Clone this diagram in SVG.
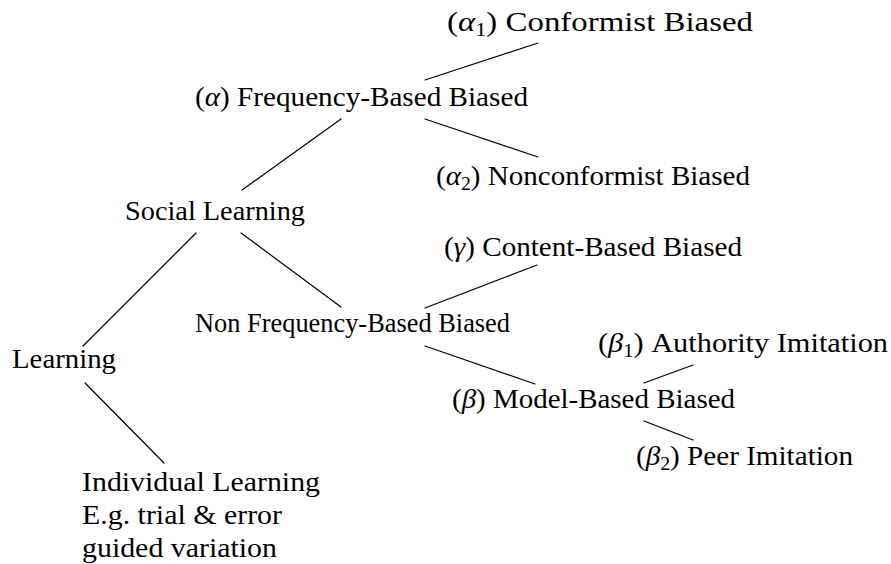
<svg xmlns="http://www.w3.org/2000/svg" width="891" height="564" viewBox="0 0 891 564">
  <style>
    text { font-family: "Liberation Serif", "DejaVu Serif", serif; font-size: 28px; fill: #000; }
    .g { font-style: italic; }
    .sub { font-size: 19px; }
    #edges line { stroke: #000; stroke-width: 1.2; stroke-linecap: round; }
  </style>
  <rect width="891" height="564" fill="#fff"/>

  <g id="edges">
    <line x1="425" y1="80" x2="538" y2="43"/>
    <line x1="425" y1="119" x2="538" y2="157"/>
    <line x1="242" y1="190" x2="341" y2="119"/>
    <line x1="196" y1="233" x2="83" y2="346"/>
    <line x1="241" y1="233" x2="341" y2="307"/>
    <line x1="425" y1="308" x2="537" y2="265"/>
    <line x1="425" y1="346" x2="535" y2="384"/>
    <line x1="644" y1="383" x2="693" y2="365"/>
    <line x1="644" y1="421" x2="693" y2="440"/>
    <line x1="85" y1="383" x2="164" y2="463"/>
  </g>

  <g id="alpha1"><text x="447" y="31" textLength="306" lengthAdjust="spacingAndGlyphs">(<tspan class="g">α</tspan><tspan class="sub" dy="5">1</tspan><tspan dy="-5">) Conformist Biased</tspan></text></g>
  <g id="alpha"><text x="195" y="106" textLength="333" lengthAdjust="spacingAndGlyphs">(<tspan class="g">α</tspan>) Frequency-Based Biased</text></g>
  <g id="alpha2"><text x="436" y="185" textLength="314" lengthAdjust="spacingAndGlyphs">(<tspan class="g">α</tspan><tspan class="sub" dy="5">2</tspan><tspan dy="-5">) Nonconformist Biased</tspan></text></g>
  <g id="social"><text x="125" y="220" textLength="180" lengthAdjust="spacingAndGlyphs">Social Learning</text></g>
  <g id="gamma"><text x="444" y="256" textLength="298" lengthAdjust="spacingAndGlyphs">(<tspan class="g">γ</tspan>) Content-Based Biased</text></g>
  <g id="nonfreq"><text x="195" y="332" textLength="315" lengthAdjust="spacingAndGlyphs">Non Frequency-Based Biased</text></g>
  <g id="beta1"><text x="598" y="352" textLength="290" lengthAdjust="spacingAndGlyphs">(<tspan class="g">β</tspan><tspan class="sub" dy="5">1</tspan><tspan dy="-5">) Authority Imitation</tspan></text></g>
  <g id="learning"><text x="12" y="368" textLength="104" lengthAdjust="spacingAndGlyphs">Learning</text></g>
  <g id="beta"><text x="452" y="408" textLength="283" lengthAdjust="spacingAndGlyphs">(<tspan class="g">β</tspan>) Model-Based Biased</text></g>
  <g id="beta2"><text x="636" y="465" textLength="217" lengthAdjust="spacingAndGlyphs">(<tspan class="g">β</tspan><tspan class="sub" dy="5">2</tspan><tspan dy="-5">) Peer Imitation</tspan></text></g>
  <g id="individual">
    <text x="82" y="491" textLength="238" lengthAdjust="spacingAndGlyphs">Individual Learning</text>
    <text x="82" y="524" textLength="200" lengthAdjust="spacingAndGlyphs">E.g. trial &amp; error</text>
    <text x="82" y="557" textLength="195" lengthAdjust="spacingAndGlyphs">guided variation</text>
  </g>
</svg>
